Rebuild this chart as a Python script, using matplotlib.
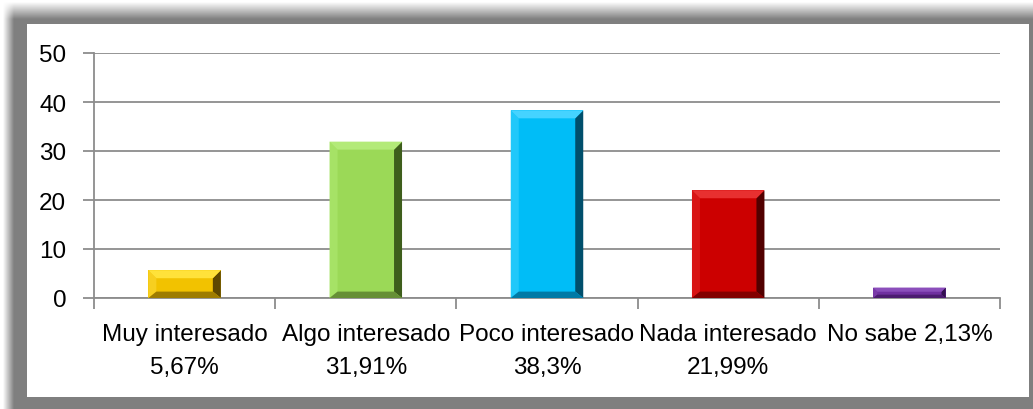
import numpy as np
import matplotlib
matplotlib.use("Agg")
import matplotlib.pyplot as plt
from matplotlib.patches import Polygon, Rectangle
from matplotlib.ticker import FixedLocator

categories = ["Muy interesado\n5,67%", "Algo interesado\n31,91%", "Poco interesado\n38,3%",
              "Nada interesado\n21,99%", "No sabe 2,13%"]
values = [5.67, 31.91, 38.3, 21.99, 2.13]
yticks = [0, 10, 20, 30, 40, 50]

face = ["#F2C200", "#9BD957", "#00BDF7", "#CC0000", "#7030A0"]
light = ["#FFE23A", "#B3EA78", "#45D3FF", "#E83030", "#8B4EBB"]
lside = ["#F7CF20", "#A6E266", "#20C8FA", "#D81414", "#7A3AA8"]
dark = ["#5E4800", "#3E5E1C", "#004F6C", "#520000", "#331050"]
mid = ["#9E7C00", "#668F36", "#007AA6", "#820000", "#4C1C70"]

W, H = 1033, 410
fig = plt.figure(figsize=(W / 100, H / 100), dpi=100)
fig.patch.set_facecolor("white")

# background frame with soft shadow
bg = fig.add_axes([0, 0, 1, 1])
bg.set_xlim(0, W)
bg.set_ylim(H, 0)
bg.axis("off")
xx, yy = np.meshgrid(np.arange(W) + 0.5, np.arange(H) + 0.5)
ax_a = np.clip((xx - 3) / 11, 0, 1)
ay_a = np.clip((yy - 3) / 17, 0, 1)
alpha = ax_a * ay_a
img = np.zeros((H, W, 4))
img[..., :3] = 0.5
img[..., 3] = alpha
bg.imshow(img, extent=(0, W, H, 0), interpolation="nearest", zorder=0)
bg.add_patch(Rectangle((27, 25), 1029 - 27, 398 - 25, facecolor="white", edgecolor="none", zorder=1))

# main axes
left, right, top, bottom = 94, 1000, 54, 299
ax = fig.add_axes([left / W, 1 - bottom / H, (right - left) / W, (bottom - top) / H])
ax.set_facecolor("none")
ax.set_zorder(2)

x = np.arange(len(values))
bars = ax.bar(x, values, width=0.4, color=face, edgecolor="none", zorder=3)

ax.set_xlim(-0.5, len(values) - 0.5)
ax.set_ylim(0, 50)

# bevel effect derived from bar geometry
px_x = (len(values)) / (right - left)   # data units per pixel in x
px_y = 50 / (bottom - top)              # data units per pixel in y
bev = 8
for i, b in enumerate(bars):
    x0, y0 = b.get_x(), b.get_y()
    x1, y1 = x0 + b.get_width(), y0 + b.get_height()
    bx = bev * px_x
    by = min(bev * px_y, b.get_height() / 2.5)
    bxs = min(bx, by / px_y * px_x)
    byb = by * 0.8
    top_poly = [(x0, y1), (x1, y1), (x1 - bxs, y1 - by), (x0 + bxs, y1 - by)]
    bot_poly = [(x0, y0), (x1, y0), (x1 - bxs, y0 + byb), (x0 + bxs, y0 + byb)]
    left_poly = [(x0, y0), (x0, y1), (x0 + bxs, y1 - by), (x0 + bxs, y0 + byb)]
    right_poly = [(x1, y0), (x1, y1), (x1 - bxs, y1 - by), (x1 - bxs, y0 + byb)]
    ax.add_patch(Polygon(left_poly, closed=True, facecolor=lside[i], edgecolor="none", zorder=4))
    ax.add_patch(Polygon(right_poly, closed=True, facecolor=dark[i], edgecolor="none", zorder=4))
    ax.add_patch(Polygon(bot_poly, closed=True, facecolor=mid[i], edgecolor="none", zorder=4))
    ax.add_patch(Polygon(top_poly, closed=True, facecolor=light[i], edgecolor="none", zorder=4))

grid_c = "#8C8C8C"
ax.set_yticks(yticks)
ax.yaxis.grid(True, color=grid_c, linewidth=1.3, zorder=1)
ax.set_axisbelow(True)
for s in ["top", "right"]:
    ax.spines[s].set_visible(False)
for s in ["left", "bottom"]:
    ax.spines[s].set_color(grid_c)
    ax.spines[s].set_linewidth(1.3)

font = "Liberation Sans"
fs = 17.5
ax.set_xticks(x)
ax.set_xticklabels(categories, fontsize=fs, family=font, linespacing=1.62, ha="center")
ax.tick_params(axis="x", which="major", length=0, pad=18)
ax.xaxis.set_minor_locator(FixedLocator(np.arange(len(values) + 1) - 0.5))
ax.tick_params(axis="x", which="minor", length=8, width=1.3, color=grid_c)
ax.tick_params(axis="y", length=8, width=1.3, color=grid_c, pad=12, labelsize=fs)
for lbl in ax.get_yticklabels():
    lbl.set_family(font)

fig.savefig("out.png", dpi=100, facecolor="white")
